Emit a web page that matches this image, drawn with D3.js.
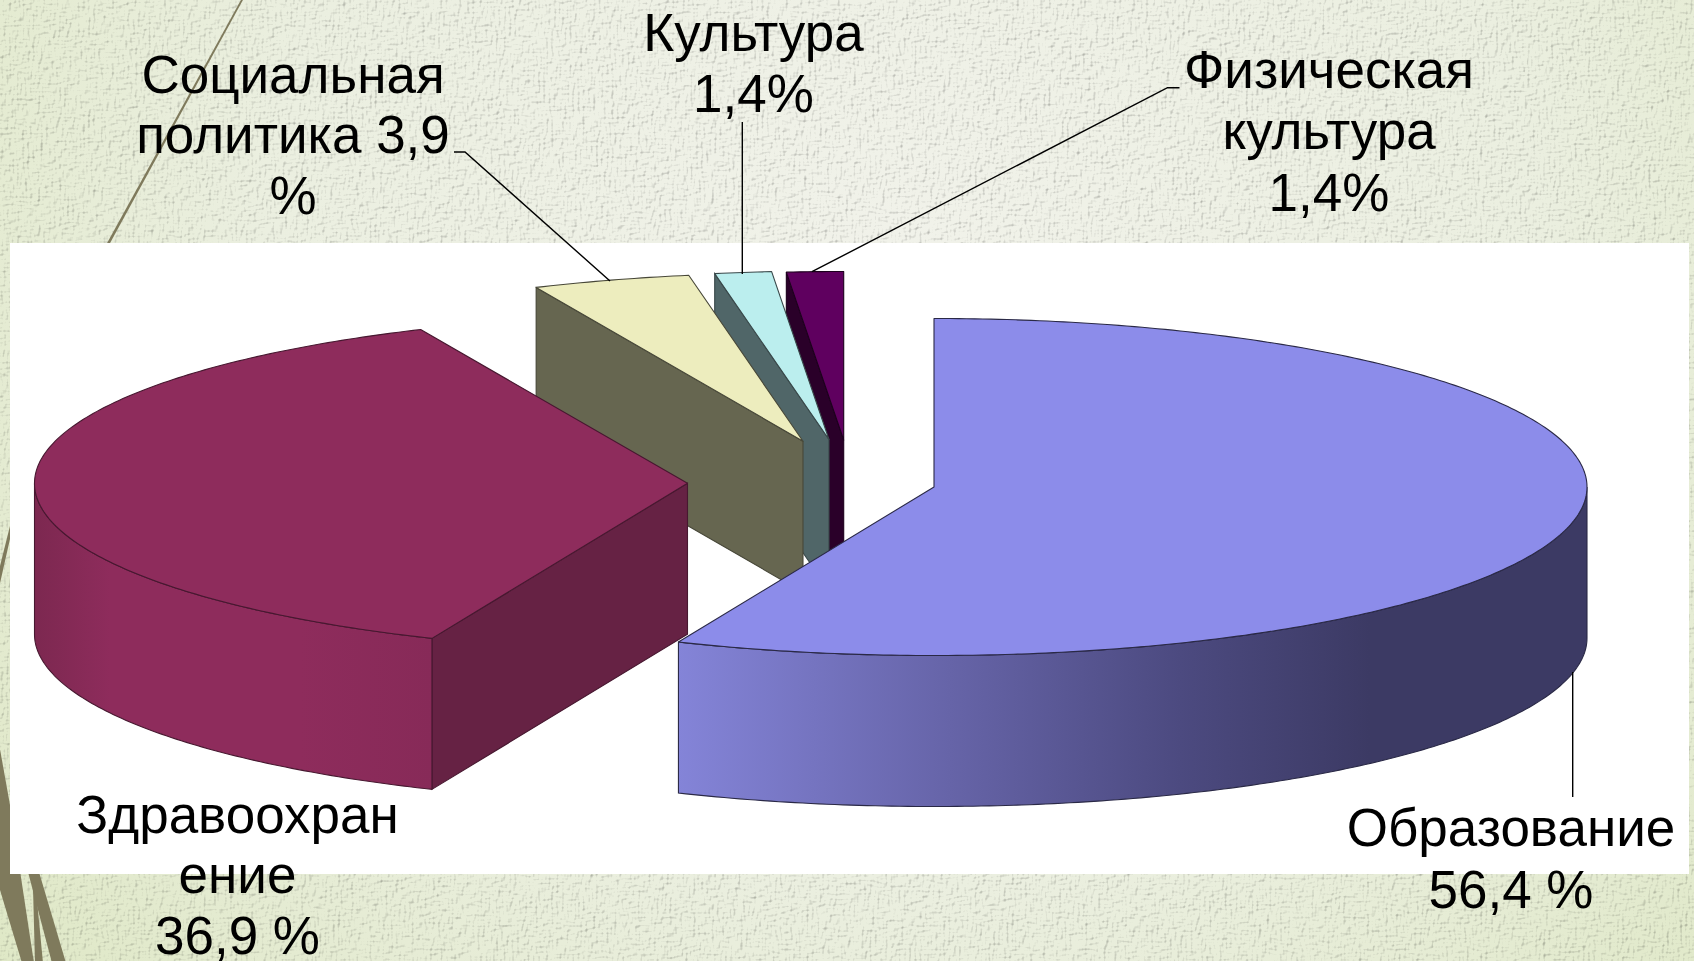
<!DOCTYPE html>
<html>
<head>
<meta charset="utf-8">
<script src="https://cdn.jsdelivr.net/npm/d3@7/dist/d3.min.js"></script>
<style>
  html, body { margin: 0; padding: 0; overflow: hidden; background: #e7ebd9; }
  svg { display: block; }
  text { font-family: "Liberation Sans", Arial, sans-serif; font-size: 53px; fill: #000; text-anchor: middle; }
</style>
</head>
<body>
<div id="chart-container"></div>
<script>
// values, clockwise from 12 o'clock
const categories = ['Образование', 'Здравоохранение', 'Социальная политика', 'Культура', 'Физическая культура'];
const shares = [56.4, 36.9, 3.9, 1.4, 1.4];
const labelLines = [
  ['Образование', '56,4 %'],
  ['Здравоохран', 'ение', '36,9 %'],
  ['Социальная', 'политика 3,9', '%'],
  ['Культура', '1,4%'],
  ['Физическая', 'культура', '1,4%']
];

// colours per slice
const topColors = ['#8c8cea', '#8e2c5c', '#ededbe', '#bbeeee', '#5f005f'];
const cutColors = ['#3c3a64', '#662244', '#666650', '#506668', '#2a0029'];

// layout: where each exploded slice has its tip, and where its label sits
const apexX = [934, 687.5, 803, 829, 843.7];
const apexY = [487, 483.3, 441.2, 439.5, 440];
const labelX = [1511, 237.5, 293, 753.5, 1329];
const labelY = [846, 832.5, 92.5, 50.5, 87.5];
const lineStep = [62, 60.5, 60.5, 61, 61.5];
const leaders = [
  [[1572.7, 672], [1572.7, 797]],
  [],
  [[454, 152], [465, 152], [610, 281]],
  [[742.3, 122], [742.3, 274]],
  [[1179.5, 87.7], [1167.5, 87.7], [812, 271.7]]
];

const width = 1694;
const height = 961;
const rx = 653;
const ry = 168.5;
const depth = 151;

const svg = d3.select('#chart-container').append('svg').attr('width', width).attr('height', height);
const defs = svg.append('defs');

// paper background
const paper = defs.append('radialGradient').attr('id', 'paper').attr('gradientUnits', 'userSpaceOnUse').
attr('cx', 900).attr('cy', 250).attr('r', 1150);
paper.append('stop').attr('offset', 0).attr('stop-color', '#f1f2ea');
paper.append('stop').attr('offset', 0.55).attr('stop-color', '#ebefe0');
paper.append('stop').attr('offset', 1).attr('stop-color', '#dfe8c6');

const weave = defs.append('filter').attr('id', 'weave').attr('x', 0).attr('y', 0).attr('width', '100%').attr('height', '100%').
attr('color-interpolation-filters', 'sRGB');
weave.append('feTurbulence').attr('type', 'fractalNoise').attr('baseFrequency', '0.12 0.38').attr('numOctaves', 1).attr('seed', 4).attr('result', 'a');
weave.append('feTurbulence').attr('type', 'fractalNoise').attr('baseFrequency', '0.38 0.12').attr('numOctaves', 1).attr('seed', 9).attr('result', 'b');
weave.append('feComposite').attr('in', 'a').attr('in2', 'b').attr('operator', 'arithmetic').
attr('k1', 0).attr('k2', 0.5).attr('k3', 0.5).attr('k4', 0).attr('result', 'bump');
weave.append('feDiffuseLighting').attr('in', 'bump').attr('surfaceScale', 1.3).attr('diffuseConstant', 1.15).
attr('lighting-color', '#fff').attr('result', 'lit').
append('feDistantLight').attr('azimuth', 225).attr('elevation', 62);
weave.append('feBlend').attr('in', 'SourceGraphic').attr('in2', 'lit').attr('mode', 'multiply');

svg.append('rect').attr('width', width).attr('height', height).attr('fill', 'url(#paper)').attr('filter', 'url(#weave)');

// grass blades of the slide template
const blade = d3.line().curve(d3.curveLinear);
const blades = [
  [[242, -2], [244, -2], [109, 245], [106, 245]],
  [[-2, 738], [10, 805], [34, 963], [22, 963], [0, 890], [-2, 880]],
  [[12, 518], [12, 530], [-2, 592], [-2, 574]],
  [[28, 872], [39, 872], [66, 963], [52, 963]],
  [[33, 888], [37, 900], [43, 963], [35, 963]]
];
svg.selectAll('path.blade').data(blades).enter().append('path').attr('class', 'blade').
attr('d', d => blade(d) + 'Z').attr('fill', '#7f7a5c');

svg.append('rect').attr('x', 10).attr('y', 243).attr('width', 1679).attr('height', 631).attr('fill', '#fff');

// wall shading
function wallGradient(id, stops) {
  let grad = defs.append('linearGradient').attr('id', id).attr('gradientUnits', 'userSpaceOnUse').
  attr('x1', stops[0][0]).attr('x2', stops[stops.length - 1][0]).attr('y1', 0).attr('y2', 0);
  let x0 = stops[0][0];
  let x1 = stops[stops.length - 1][0];
  stops.forEach(s => grad.append('stop').attr('offset', (s[0] - x0) / (x1 - x0)).attr('stop-color', s[1]));
}
wallGradient('wall0', [[678, '#8484d8'], [950, '#6664a8'], [1180, '#4c4a80'], [1370, '#3c3a64'], [1586, '#3c3a64']]);
wallGradient('wall1', [[34, '#7c2850'], [110, '#8e2c5c'], [300, '#8e2c5c'], [432, '#872a58']]);

const pieLayout = d3.pie().sort(null).startAngle(0).endAngle(2 * Math.PI);
const arcs = pieLayout(shares);

const scaleX = d3.scaleLinear().domain([-1, 1]).range([-rx, rx]);
const scaleY = d3.scaleLinear().domain([-1, 1]).range([-ry, ry]);

function rimPoint(i, angle, drop) {
  return [apexX[i] + scaleX(Math.sin(angle)), apexY[i] - scaleY(Math.cos(angle)) + drop];
}

function rimPoints(i, from, to, drop) {
  let steps = Math.max(2, Math.ceil((to - from) * 80));
  return d3.range(steps + 1).map(k => rimPoint(i, from + (to - from) * k / steps, drop));
}

const closed = d3.line();
const layers = d3.range(arcs.length).reverse();

layers.forEach(i => {
  let d = arcs[i];
  let g = svg.append('g').attr('class', 'slice').attr('data-name', categories[i]);
  let edge = d3.color(cutColors[i]).darker(1).formatHex();

  // cut face on the starting side
  if (Math.sin(d.startAngle) < -0.001) {
    let outer = rimPoint(i, d.startAngle, 0);
    let outerLow = rimPoint(i, d.startAngle, depth);
    g.append('path').attr('d', closed([outer, [apexX[i], apexY[i]], [apexX[i], apexY[i] + depth], outerLow]) + 'Z').
    attr('fill', cutColors[i]).attr('stroke', edge).attr('stroke-width', 1.1);
  }

  // round wall on the part that faces the viewer
  let wallFrom = Math.max(d.startAngle, Math.PI / 2);
  let wallTo = Math.min(d.endAngle, 3 * Math.PI / 2);
  if (wallTo > wallFrom) {
    let pts = rimPoints(i, wallFrom, wallTo, 0).concat(rimPoints(i, wallFrom, wallTo, depth).reverse());
    g.append('path').attr('d', closed(pts) + 'Z').attr('fill', `url(#wall${i})`).
    attr('stroke', edge).attr('stroke-width', 1.1);
  }

  // top
  let top = [[apexX[i], apexY[i]]].concat(rimPoints(i, d.startAngle, d.endAngle, 0));
  g.append('path').attr('d', closed(top) + 'Z').attr('fill', topColors[i]).
  attr('stroke', edge).attr('stroke-width', 1.1).attr('stroke-linejoin', 'round');
});

// leader lines
svg.selectAll('path.leader').data(leaders.filter(l => l.length)).enter().append('path').attr('class', 'leader').
attr('d', d => closed(d)).attr('fill', 'none').attr('stroke', '#000').attr('stroke-width', 1.4);

// labels
labelLines.forEach((lines, i) => {
  svg.selectAll(null).data(lines).enter().append('text').
  attr('x', labelX[i]).
  attr('y', (l, k) => labelY[i] + k * lineStep[i]).
  text(l => l);
});
</script>
</body>
</html>
